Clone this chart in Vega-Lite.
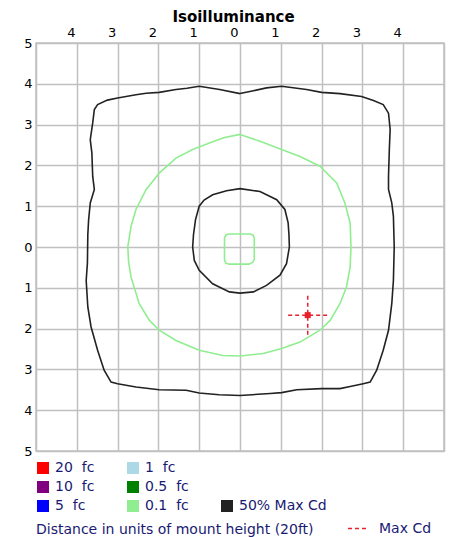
{
  "$schema": "https://vega.github.io/schema/vega-lite/v6.json",
  "width": 408,
  "height": 408,
  "autosize": {"type": "none"},
  "padding": {"left": 36, "top": 43, "right": 7, "bottom": 86},
  "background": "white",
  "config": {"view": {"stroke": "#c0c0c0", "strokeWidth": 1.5}, "font": "DejaVu Sans"},
  "title": {"text": "Distance in units of mount height (20ft)", "orient": "bottom", "anchor": "start", "frame": "group", "offset": -13, "fontSize": 14, "fontWeight": "normal", "color": "#1a1a73", "font": "DejaVu Sans"},
  "datasets": {
    "contours": [
      {"curve":"outer","level":"50% Max Cd","i":0,"x":0,"y":3.76},
      {"curve":"outer","level":"50% Max Cd","i":1,"x":-0.5,"y":3.86},
      {"curve":"outer","level":"50% Max Cd","i":2,"x":-1.0,"y":3.94},
      {"curve":"outer","level":"50% Max Cd","i":3,"x":-1.3,"y":3.89},
      {"curve":"outer","level":"50% Max Cd","i":4,"x":-1.57,"y":3.86},
      {"curve":"outer","level":"50% Max Cd","i":5,"x":-1.98,"y":3.79},
      {"curve":"outer","level":"50% Max Cd","i":6,"x":-2.3,"y":3.77},
      {"curve":"outer","level":"50% Max Cd","i":7,"x":-2.55,"y":3.73},
      {"curve":"outer","level":"50% Max Cd","i":8,"x":-3.0,"y":3.65},
      {"curve":"outer","level":"50% Max Cd","i":9,"x":-3.25,"y":3.6},
      {"curve":"outer","level":"50% Max Cd","i":10,"x":-3.49,"y":3.49},
      {"curve":"outer","level":"50% Max Cd","i":11,"x":-3.57,"y":3.37},
      {"curve":"outer","level":"50% Max Cd","i":12,"x":-3.61,"y":3.04},
      {"curve":"outer","level":"50% Max Cd","i":13,"x":-3.67,"y":2.63},
      {"curve":"outer","level":"50% Max Cd","i":14,"x":-3.63,"y":2.3},
      {"curve":"outer","level":"50% Max Cd","i":15,"x":-3.62,"y":2.0},
      {"curve":"outer","level":"50% Max Cd","i":16,"x":-3.61,"y":1.73},
      {"curve":"outer","level":"50% Max Cd","i":17,"x":-3.57,"y":1.41},
      {"curve":"outer","level":"50% Max Cd","i":18,"x":-3.67,"y":1.08},
      {"curve":"outer","level":"50% Max Cd","i":19,"x":-3.71,"y":0.67},
      {"curve":"outer","level":"50% Max Cd","i":20,"x":-3.73,"y":0.3},
      {"curve":"outer","level":"50% Max Cd","i":21,"x":-3.74,"y":-0.4},
      {"curve":"outer","level":"50% Max Cd","i":22,"x":-3.77,"y":-0.82},
      {"curve":"outer","level":"50% Max Cd","i":23,"x":-3.73,"y":-1.47},
      {"curve":"outer","level":"50% Max Cd","i":24,"x":-3.65,"y":-1.96},
      {"curve":"outer","level":"50% Max Cd","i":25,"x":-3.49,"y":-2.53},
      {"curve":"outer","level":"50% Max Cd","i":26,"x":-3.33,"y":-3.02},
      {"curve":"outer","level":"50% Max Cd","i":27,"x":-3.16,"y":-3.31},
      {"curve":"outer","level":"50% Max Cd","i":28,"x":-3.0,"y":-3.35},
      {"curve":"outer","level":"50% Max Cd","i":29,"x":-2.55,"y":-3.43},
      {"curve":"outer","level":"50% Max Cd","i":30,"x":-1.98,"y":-3.5},
      {"curve":"outer","level":"50% Max Cd","i":31,"x":-1.32,"y":-3.51},
      {"curve":"outer","level":"50% Max Cd","i":32,"x":-1.0,"y":-3.58},
      {"curve":"outer","level":"50% Max Cd","i":33,"x":-0.51,"y":-3.62},
      {"curve":"outer","level":"50% Max Cd","i":34,"x":0,"y":-3.64},
      {"curve":"outer","level":"50% Max Cd","i":35,"x":0.74,"y":-3.59},
      {"curve":"outer","level":"50% Max Cd","i":36,"x":1.02,"y":-3.57},
      {"curve":"outer","level":"50% Max Cd","i":37,"x":1.39,"y":-3.5},
      {"curve":"outer","level":"50% Max Cd","i":38,"x":2.0,"y":-3.47},
      {"curve":"outer","level":"50% Max Cd","i":39,"x":2.45,"y":-3.47},
      {"curve":"outer","level":"50% Max Cd","i":40,"x":2.7,"y":-3.42},
      {"curve":"outer","level":"50% Max Cd","i":41,"x":3.02,"y":-3.35},
      {"curve":"outer","level":"50% Max Cd","i":42,"x":3.19,"y":-3.31},
      {"curve":"outer","level":"50% Max Cd","i":43,"x":3.35,"y":-3.02},
      {"curve":"outer","level":"50% Max Cd","i":44,"x":3.51,"y":-2.53},
      {"curve":"outer","level":"50% Max Cd","i":45,"x":3.64,"y":-2.04},
      {"curve":"outer","level":"50% Max Cd","i":46,"x":3.72,"y":-1.39},
      {"curve":"outer","level":"50% Max Cd","i":47,"x":3.76,"y":-0.82},
      {"curve":"outer","level":"50% Max Cd","i":48,"x":3.78,"y":0},
      {"curve":"outer","level":"50% Max Cd","i":49,"x":3.76,"y":0.75},
      {"curve":"outer","level":"50% Max Cd","i":50,"x":3.72,"y":1.08},
      {"curve":"outer","level":"50% Max Cd","i":51,"x":3.64,"y":1.41},
      {"curve":"outer","level":"50% Max Cd","i":52,"x":3.64,"y":1.73},
      {"curve":"outer","level":"50% Max Cd","i":53,"x":3.66,"y":2.39},
      {"curve":"outer","level":"50% Max Cd","i":54,"x":3.68,"y":2.88},
      {"curve":"outer","level":"50% Max Cd","i":55,"x":3.64,"y":3.28},
      {"curve":"outer","level":"50% Max Cd","i":56,"x":3.51,"y":3.49},
      {"curve":"outer","level":"50% Max Cd","i":57,"x":3.27,"y":3.59},
      {"curve":"outer","level":"50% Max Cd","i":58,"x":2.98,"y":3.69},
      {"curve":"outer","level":"50% Max Cd","i":59,"x":2.45,"y":3.76},
      {"curve":"outer","level":"50% Max Cd","i":60,"x":2.0,"y":3.79},
      {"curve":"outer","level":"50% Max Cd","i":61,"x":1.63,"y":3.86},
      {"curve":"outer","level":"50% Max Cd","i":62,"x":1.02,"y":3.94},
      {"curve":"outer","level":"50% Max Cd","i":63,"x":0.65,"y":3.9},
      {"curve":"outer","level":"50% Max Cd","i":64,"x":0.33,"y":3.83},
      {"curve":"outer","level":"50% Max Cd","i":65,"x":0,"y":3.76},
      {"curve":"inner","level":"50% Max Cd","i":0,"x":0,"y":1.43},
      {"curve":"inner","level":"50% Max Cd","i":1,"x":-0.33,"y":1.38},
      {"curve":"inner","level":"50% Max Cd","i":2,"x":-0.67,"y":1.28},
      {"curve":"inner","level":"50% Max Cd","i":3,"x":-0.88,"y":1.15},
      {"curve":"inner","level":"50% Max Cd","i":4,"x":-1.0,"y":1.0},
      {"curve":"inner","level":"50% Max Cd","i":5,"x":-1.09,"y":0.67},
      {"curve":"inner","level":"50% Max Cd","i":6,"x":-1.14,"y":0.3},
      {"curve":"inner","level":"50% Max Cd","i":7,"x":-1.16,"y":0},
      {"curve":"inner","level":"50% Max Cd","i":8,"x":-1.12,"y":-0.33},
      {"curve":"inner","level":"50% Max Cd","i":9,"x":-1.0,"y":-0.57},
      {"curve":"inner","level":"50% Max Cd","i":10,"x":-0.67,"y":-0.9},
      {"curve":"inner","level":"50% Max Cd","i":11,"x":-0.26,"y":-1.1},
      {"curve":"inner","level":"50% Max Cd","i":12,"x":0,"y":-1.13},
      {"curve":"inner","level":"50% Max Cd","i":13,"x":0.33,"y":-1.1},
      {"curve":"inner","level":"50% Max Cd","i":14,"x":0.65,"y":-0.94},
      {"curve":"inner","level":"50% Max Cd","i":15,"x":0.98,"y":-0.69},
      {"curve":"inner","level":"50% Max Cd","i":16,"x":1.14,"y":-0.41},
      {"curve":"inner","level":"50% Max Cd","i":17,"x":1.21,"y":0},
      {"curve":"inner","level":"50% Max Cd","i":18,"x":1.2,"y":0.3},
      {"curve":"inner","level":"50% Max Cd","i":19,"x":1.18,"y":0.59},
      {"curve":"inner","level":"50% Max Cd","i":20,"x":1.1,"y":0.92},
      {"curve":"inner","level":"50% Max Cd","i":21,"x":0.9,"y":1.16},
      {"curve":"inner","level":"50% Max Cd","i":22,"x":0.49,"y":1.36},
      {"curve":"inner","level":"50% Max Cd","i":23,"x":0,"y":1.43},
      {"curve":"circle","level":"0.1\u00a0\u00a0fc","i":0,"x":0,"y":2.76},
      {"curve":"circle","level":"0.1\u00a0\u00a0fc","i":1,"x":-0.4,"y":2.68},
      {"curve":"circle","level":"0.1\u00a0\u00a0fc","i":2,"x":-0.75,"y":2.55},
      {"curve":"circle","level":"0.1\u00a0\u00a0fc","i":3,"x":-1.16,"y":2.39},
      {"curve":"circle","level":"0.1\u00a0\u00a0fc","i":4,"x":-1.57,"y":2.18},
      {"curve":"circle","level":"0.1\u00a0\u00a0fc","i":5,"x":-1.98,"y":1.81},
      {"curve":"circle","level":"0.1\u00a0\u00a0fc","i":6,"x":-2.3,"y":1.41},
      {"curve":"circle","level":"0.1\u00a0\u00a0fc","i":7,"x":-2.55,"y":0.92},
      {"curve":"circle","level":"0.1\u00a0\u00a0fc","i":8,"x":-2.67,"y":0.51},
      {"curve":"circle","level":"0.1\u00a0\u00a0fc","i":9,"x":-2.75,"y":0},
      {"curve":"circle","level":"0.1\u00a0\u00a0fc","i":10,"x":-2.73,"y":-0.37},
      {"curve":"circle","level":"0.1\u00a0\u00a0fc","i":11,"x":-2.67,"y":-0.74},
      {"curve":"circle","level":"0.1\u00a0\u00a0fc","i":12,"x":-2.47,"y":-1.39},
      {"curve":"circle","level":"0.1\u00a0\u00a0fc","i":13,"x":-2.22,"y":-1.8},
      {"curve":"circle","level":"0.1\u00a0\u00a0fc","i":14,"x":-1.98,"y":-2.04},
      {"curve":"circle","level":"0.1\u00a0\u00a0fc","i":15,"x":-1.57,"y":-2.29},
      {"curve":"circle","level":"0.1\u00a0\u00a0fc","i":16,"x":-1.0,"y":-2.53},
      {"curve":"circle","level":"0.1\u00a0\u00a0fc","i":17,"x":-0.42,"y":-2.66},
      {"curve":"circle","level":"0.1\u00a0\u00a0fc","i":18,"x":0,"y":-2.67},
      {"curve":"circle","level":"0.1\u00a0\u00a0fc","i":19,"x":0.57,"y":-2.61},
      {"curve":"circle","level":"0.1\u00a0\u00a0fc","i":20,"x":1.02,"y":-2.49},
      {"curve":"circle","level":"0.1\u00a0\u00a0fc","i":21,"x":1.47,"y":-2.33},
      {"curve":"circle","level":"0.1\u00a0\u00a0fc","i":22,"x":1.96,"y":-2.04},
      {"curve":"circle","level":"0.1\u00a0\u00a0fc","i":23,"x":2.21,"y":-1.8},
      {"curve":"circle","level":"0.1\u00a0\u00a0fc","i":24,"x":2.45,"y":-1.39},
      {"curve":"circle","level":"0.1\u00a0\u00a0fc","i":25,"x":2.61,"y":-0.98},
      {"curve":"circle","level":"0.1\u00a0\u00a0fc","i":26,"x":2.7,"y":-0.49},
      {"curve":"circle","level":"0.1\u00a0\u00a0fc","i":27,"x":2.72,"y":0},
      {"curve":"circle","level":"0.1\u00a0\u00a0fc","i":28,"x":2.7,"y":0.59},
      {"curve":"circle","level":"0.1\u00a0\u00a0fc","i":29,"x":2.57,"y":1.08},
      {"curve":"circle","level":"0.1\u00a0\u00a0fc","i":30,"x":2.37,"y":1.57},
      {"curve":"circle","level":"0.1\u00a0\u00a0fc","i":31,"x":1.96,"y":1.98},
      {"curve":"circle","level":"0.1\u00a0\u00a0fc","i":32,"x":1.47,"y":2.22},
      {"curve":"circle","level":"0.1\u00a0\u00a0fc","i":33,"x":1.02,"y":2.39},
      {"curve":"circle","level":"0.1\u00a0\u00a0fc","i":34,"x":0.49,"y":2.59},
      {"curve":"circle","level":"0.1\u00a0\u00a0fc","i":35,"x":0,"y":2.76},
      {"curve":"square","level":"0.1\u00a0\u00a0fc","i":0,"x":0,"y":0.32},
      {"curve":"square","level":"0.1\u00a0\u00a0fc","i":1,"x":-0.28,"y":0.32},
      {"curve":"square","level":"0.1\u00a0\u00a0fc","i":2,"x":-0.35,"y":0.29},
      {"curve":"square","level":"0.1\u00a0\u00a0fc","i":3,"x":-0.38,"y":0.22},
      {"curve":"square","level":"0.1\u00a0\u00a0fc","i":4,"x":-0.38,"y":-0.32},
      {"curve":"square","level":"0.1\u00a0\u00a0fc","i":5,"x":-0.35,"y":-0.39},
      {"curve":"square","level":"0.1\u00a0\u00a0fc","i":6,"x":-0.27,"y":-0.42},
      {"curve":"square","level":"0.1\u00a0\u00a0fc","i":7,"x":0.22,"y":-0.42},
      {"curve":"square","level":"0.1\u00a0\u00a0fc","i":8,"x":0.31,"y":-0.38},
      {"curve":"square","level":"0.1\u00a0\u00a0fc","i":9,"x":0.35,"y":-0.3},
      {"curve":"square","level":"0.1\u00a0\u00a0fc","i":10,"x":0.35,"y":0.22},
      {"curve":"square","level":"0.1\u00a0\u00a0fc","i":11,"x":0.32,"y":0.29},
      {"curve":"square","level":"0.1\u00a0\u00a0fc","i":12,"x":0.26,"y":0.32},
      {"curve":"square","level":"0.1\u00a0\u00a0fc","i":13,"x":0,"y":0.32}
    ],
    "maxcd": [
      {"marker": "Max Cd", "x": 1.66, "y": -1.67, "x_lo": 1.18, "x_hi": 2.14, "y_lo": -2.15, "y_hi": -1.19}
    ]
  },
  "layer": [
    {
      "data": {"name": "contours"},
      "mark": {"type": "line", "strokeWidth": 1.6},
      "encoding": {
        "x": {
          "field": "x", "type": "quantitative", "title": "Isoilluminance",
          "scale": {"domain": [-5, 5], "nice": false, "zero": false},
          "axis": {
            "orient": "top", "values": [-5,-4,-3,-2,-1,0,1,2,3,4,5],
            "labelExpr": "abs(datum.value) == 5 ? '' : '' + abs(datum.value)",
            "grid": true, "gridColor": "#c0c0c0", "gridWidth": 1.5, "gridOpacity": 1,
            "ticks": false, "domain": false, "labelFlush": false, "labelOverlap": false, "labelBound": false,
            "labelFont": "DejaVu Sans", "labelFontSize": 13, "labelColor": "#000000", "labelPadding": 4, "labelOffset": -6,
            "titleFont": "DejaVu Sans", "titleFontSize": 15, "titleFontWeight": "bold", "titleColor": "#000000",
            "titleX": 197, "titleY": -22, "titleBaseline": "alphabetic", "titleAlign": "center"
          }
        },
        "y": {
          "field": "y", "type": "quantitative", "title": null,
          "scale": {"domain": [-5, 5], "nice": false, "zero": false},
          "axis": {
            "orient": "left", "values": [-5,-4,-3,-2,-1,0,1,2,3,4,5],
            "labelExpr": "'' + abs(datum.value)",
            "grid": true, "gridColor": "#c0c0c0", "gridWidth": 1.5, "gridOpacity": 1,
            "ticks": false, "domain": false, "labelFlush": false, "labelOverlap": false, "labelBound": false,
            "labelFont": "DejaVu Sans", "labelFontSize": 13, "labelColor": "#000000", "labelPadding": 4
          }
        },
        "detail": {"field": "curve", "type": "nominal"},
        "order": {"field": "i", "type": "quantitative"},
        "stroke": {
          "field": "level", "type": "nominal",
          "scale": {
            "domain": ["20\u00a0\u00a0fc", "10\u00a0\u00a0fc", "5\u00a0\u00a0fc", "1\u00a0\u00a0fc", "0.5\u00a0\u00a0fc", "0.1\u00a0\u00a0fc", " ", "  ", "50% Max Cd"],
            "range": ["#ff0000", "#800080", "#0000ff", "#add8e6", "#008000", "#90ee90", "rgba(0,0,0,0)", "rgba(0,0,0,0)", "#222222"]
          },
          "legend": {
            "orient": "none", "legendX": 0, "legendY": 418, "columns": 3, "columnPadding": 31, "rowPadding": 5,
            "title": null, "padding": 0, "symbolType": "square", "symbolSize": 144, "symbolStrokeWidth": 0,
            "labelFont": "DejaVu Sans", "labelFontSize": 14, "labelColor": "#1a1a73", "labelOffset": 5, "labelLimit": 300,
            "encode": {"symbols": {"update": {"fill": {"scale": "stroke", "field": "value"}, "fillOpacity": {"value": 1}, "opacity": {"value": 1}}}}
          }
        }
      }
    },
    {
      "data": {"name": "maxcd"},
      "mark": {"type": "rule", "color": "#e8202a", "strokeWidth": 1.5},
      "encoding": {
        "x": {"field": "x_lo", "type": "quantitative", "title": "Isoilluminance"},
        "x2": {"field": "x_hi"},
        "y": {"field": "y", "type": "quantitative", "title": null},
        "strokeDash": {
          "field": "marker", "type": "nominal",
          "scale": {"domain": ["Max Cd"], "range": [[4, 3]]},
          "legend": {
            "orient": "none", "legendX": 311, "legendY": 474, "title": null, "padding": 0,
            "symbolType": "stroke", "symbolSize": 441, "symbolStrokeColor": "#e8202a", "symbolStrokeWidth": 1.5,
            "labelFont": "DejaVu Sans", "labelFontSize": 14, "labelColor": "#1a1a73", "labelOffset": 9
          }
        }
      }
    },
    {
      "data": {"name": "maxcd"},
      "mark": {"type": "rule", "color": "#e8202a", "strokeWidth": 1.5},
      "encoding": {
        "x": {"field": "x", "type": "quantitative", "title": "Isoilluminance"},
        "y": {"field": "y_lo", "type": "quantitative", "title": null},
        "y2": {"field": "y_hi"},
        "strokeDash": {"field": "marker", "type": "nominal"}
      }
    },
    {
      "data": {"name": "maxcd"},
      "mark": {"type": "square", "size": 36, "color": "#e8202a", "filled": true, "opacity": 1},
      "encoding": {
        "x": {"field": "x", "type": "quantitative", "title": "Isoilluminance"},
        "y": {"field": "y", "type": "quantitative", "title": null}
      }
    }
  ]
}
